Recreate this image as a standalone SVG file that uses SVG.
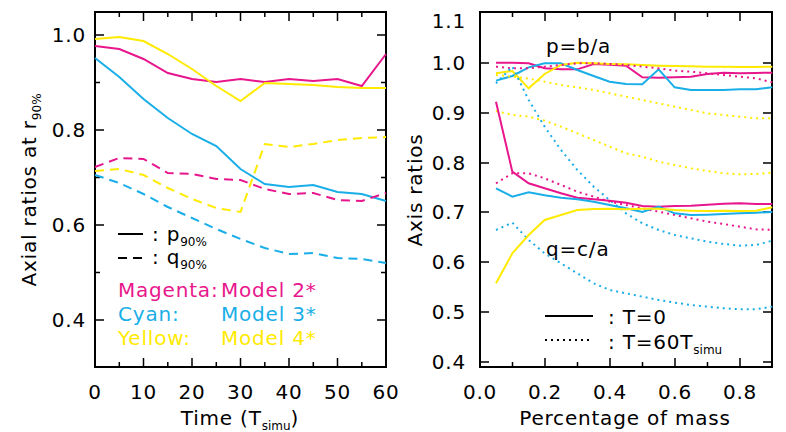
<svg xmlns="http://www.w3.org/2000/svg" width="786" height="432" viewBox="0 0 786 432">
<style>
text{font-family:"DejaVu Sans","Liberation Sans",sans-serif;font-size:20px;letter-spacing:0.8px;fill:#000}
.fr{fill:none;stroke:#000;stroke-width:2}
.tk{stroke:#000;stroke-width:1.5}
.l{fill:none;stroke-width:2;vector-effect:non-scaling-stroke}
.m{stroke:#e8168c}.c{stroke:#1aaee8}.y{stroke:#ffea00}
.d{stroke-dasharray:9,6}.o{stroke-dasharray:2,4}
.sm{font-size:12px;letter-spacing:0}
</style>
<rect width="786" height="432" fill="#fff"/>
<g id="left-axes">
<rect class="fr" x="95" y="12" width="291" height="355"/>
<path class="tk" d="M95,35h9M95,130h9M95,225h9M95,320h9M386,35h-9M386,130h-9M386,225h-9M386,320h-9M95,82.5h5M95,177.5h5M95,272.5h5M386,82.5h-5M386,177.5h-5M386,272.5h-5M95,367v-5M143.5,367v-9M192,367v-9M240.5,367v-9M289,367v-9M337.5,367v-9M143.5,12v9M192,12v9M240.5,12v9M289,12v9M337.5,12v9M119.3,367v-5M167.8,367v-5M216.3,367v-5M264.8,367v-5M313.3,367v-5M361.8,367v-5M119.3,12v5M167.8,12v5M216.3,12v5M264.8,12v5M313.3,12v5M361.8,12v5"/>
<g text-anchor="end"><text x="86" y="42">1.0</text><text x="86" y="137">0.8</text><text x="86" y="232">0.6</text><text x="86" y="327">0.4</text></g>
<g text-anchor="middle"><text x="95" y="399">0</text><text x="143.5" y="399">10</text><text x="192" y="399">20</text><text x="240.5" y="399">30</text><text x="289" y="399">40</text><text x="337.5" y="399">50</text><text x="386" y="399">60</text>
<text x="240" y="425">Time (T<tspan class="sm" dy="5">simu</tspan><tspan dy="-5">)</tspan></text>
<text transform="translate(36,190) rotate(-90)">Axial ratios at r<tspan class="sm" dy="5">90%</tspan></text></g>
</g>
<g id="left-curves">
<polyline class="l m" points="95,46 119.3,49 143.5,59 167.8,73 192,79 216.3,82 240.5,79 264.8,82 289,79 313.3,81 337.5,79 361.8,86 386,54"/>
<polyline class="l y" points="95,39 119.3,37 143.5,41 167.8,54 192,69 216.3,86 240.5,101 264.8,83 289,84 313.3,85 337.5,87 361.8,88 386,88"/>
<polyline class="l c" points="95,58 119.3,77 143.5,99 167.8,118 192,134 216.3,146 240.5,169 264.8,184 289,187 313.3,185 337.5,192 361.8,194 386,201"/>
<polyline class="l m d" points="95,167 119.3,158 143.5,159 167.8,173 192,174 216.3,179 240.5,180 264.8,189 289,194 313.3,193 337.5,200 361.8,201 386,193"/>
<polyline class="l y d" points="95,171 119.3,169 143.5,175 167.8,188 192,199 216.3,208 240.5,212 264.8,144 289,147 313.3,144 337.5,140 361.8,138 386,137"/>
<polyline class="l c d" points="95,175 119.3,183 143.5,194 167.8,207 192,218 216.3,229 240.5,239 264.8,248 289,254 313.3,253 337.5,258 361.8,259 386,263"/>
</g>
<g id="left-legend">
<line x1="118" y1="234" x2="143" y2="234" stroke="#000" stroke-width="2"/>
<line x1="118" y1="258" x2="143" y2="258" stroke="#000" stroke-width="2" stroke-dasharray="9,6"/>
<text x="152" y="241">: p<tspan class="sm" dy="5">90%</tspan></text>
<text x="152" y="264">: q<tspan class="sm" dy="5">90%</tspan></text>
<text x="118" y="297" style="fill:#e8168c">Magenta:</text><text x="221" y="297" style="fill:#e8168c">Model 2*</text>
<text x="118" y="321" style="fill:#1aaee8">Cyan:</text><text x="221" y="321" style="fill:#1aaee8">Model 3*</text>
<text x="118" y="345" style="fill:#ffea00">Yellow:</text><text x="221" y="345" style="fill:#ffea00">Model 4*</text>
</g>
<g id="right-axes">
<rect class="fr" x="480" y="12" width="292" height="355"/>
<path class="tk" d="M480,63h9M480,113h9M480,163h9M480,212h9M480,262h9M480,312h9M480,362h9M772,63h-9M772,113h-9M772,163h-9M772,212h-9M772,262h-9M772,312h-9M772,362h-9M545,367v-9M610,367v-9M675,367v-9M740,367v-9M545,12v9M610,12v9M675,12v9M740,12v9M512.5,367v-5M577.5,367v-5M642.5,367v-5M707.5,367v-5M512.5,12v5M577.5,12v5M642.5,12v5M707.5,12v5"/>
<g text-anchor="end"><text x="466" y="28">1.1</text><text x="466" y="70">1.0</text><text x="466" y="120">0.9</text><text x="466" y="170">0.8</text><text x="466" y="219">0.7</text><text x="466" y="269">0.6</text><text x="466" y="319">0.5</text><text x="466" y="369">0.4</text></g>
<g text-anchor="middle"><text x="480" y="399">0.0</text><text x="545" y="399">0.2</text><text x="610" y="399">0.4</text><text x="675" y="399">0.6</text><text x="740" y="399">0.8</text>
<text x="625" y="425">Percentage of mass</text>
<text transform="translate(422,190) rotate(-90)">Axis ratios</text></g>
<text x="546" y="53">p=b/a</text><text x="546" y="256">q=c/a</text>
</g>
<g id="right-curves" transform="translate(390,0) scale(0.3333)">
<polyline class="l m" points="318,188 367,188 416,190 464,205 513,208 562,208 611,192 659,194 708,197 757,232 806,233 854,232 903,230 952,222 1001,218 1049,220 1098,219 1147,218"/>
<polyline class="l c" points="318,242 367,228 416,202 464,190 513,190 562,210 611,228 659,245 708,252 757,253 806,208 854,262 903,270 952,270 1001,270 1049,268 1098,268 1147,262"/>
<polyline class="l y" points="318,220 367,213 416,265 464,222 513,195 562,188 611,190 659,192 708,193 757,195 806,197 854,198 903,199 952,200 1001,200 1049,201 1098,201 1147,200"/>
<polyline class="l m o" points="318,200 367,205 416,205 464,200 513,195 562,190 611,190 659,192 708,195 757,200 806,205 854,212 903,215 952,220 1001,225 1049,230 1098,235 1147,247"/>
<polyline class="l y o" points="318,225 367,230 416,236 464,245 513,255 562,262 611,270 659,280 708,290 757,300 806,310 854,320 903,330 952,340 1001,345 1049,350 1098,355 1147,355"/>
<polyline class="l y o" points="318,333 367,345 416,350 464,362 513,380 562,400 611,420 659,440 708,460 757,470 806,485 854,495 903,505 952,513 1001,520 1049,523 1098,522 1147,518"/>
<polyline class="l c o" points="318,250 367,200 416,300 464,380 513,450 562,510 611,560 659,600 708,640 757,670 806,690 854,705 903,715 952,725 1001,732 1049,737 1098,735 1147,722"/>
<polyline class="l c o" points="318,690 367,668 416,720 464,760 513,790 562,820 611,850 659,870 708,880 757,890 806,900 854,908 903,915 952,920 1001,925 1049,928 1098,928 1147,920"/>
<polyline class="l m o" points="318,550 367,520 416,520 464,535 513,555 562,575 611,590 659,605 708,615 757,625 806,635 854,645 903,655 952,665 1001,672 1049,680 1098,688 1147,690"/>
<polyline class="l m" points="318,305 367,515 416,550 464,565 513,580 562,593 611,598 659,602 708,608 757,618 806,620 854,618 903,617 952,614 1001,611 1049,610 1098,612 1147,612"/>
<polyline class="l c" points="318,565 367,590 416,577 464,586 513,593 562,598 611,605 659,615 708,625 757,636 806,620 854,640 903,645 952,644 1001,642 1049,640 1098,638 1147,636"/>
<polyline class="l y" points="318,850 367,760 416,705 464,660 513,645 562,630 611,627 659,626 708,628 757,626 806,626 854,630 903,632 952,633 1001,632 1049,633 1098,632 1147,622"/>
</g>
<g id="right-legend">
<line x1="545" y1="316" x2="593" y2="316" stroke="#000" stroke-width="2"/>
<line x1="545" y1="340" x2="593" y2="340" stroke="#000" stroke-width="2" stroke-dasharray="2,4"/>
<text x="608" y="324">: T=0</text>
<text x="608" y="349">: T=60T<tspan class="sm" dy="5">simu</tspan></text>
</g>
</svg>
